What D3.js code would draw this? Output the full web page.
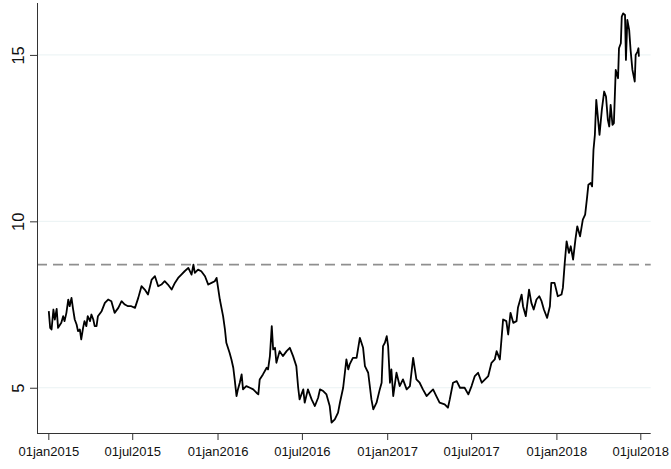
<!DOCTYPE html>
<html>
<head>
<meta charset="utf-8">
<script src="https://cdn.jsdelivr.net/npm/d3@7"></script>
<style>
html,body{margin:0;padding:0;background:#fff;}
svg{display:block;font-family:"Liberation Sans",Arial,sans-serif;}
</style>
</head>
<body>
<svg id="chart" width="671" height="469"></svg>
<script>
const dates = [
"2015-01-02","2015-01-05","2015-01-08","2015-01-12","2015-01-15","2015-01-19","2015-01-22","2015-01-29",
"2015-02-02","2015-02-05","2015-02-09","2015-02-13","2015-02-16","2015-02-20","2015-02-23","2015-02-27",
"2015-03-03","2015-03-06","2015-03-10","2015-03-13","2015-03-17","2015-03-20","2015-03-24","2015-03-27",
"2015-04-01","2015-04-04","2015-04-08","2015-04-11","2015-04-15","2015-04-18","2015-04-26",
"2015-05-03","2015-05-10","2015-05-17","2015-05-24","2015-06-01","2015-06-08","2015-06-15","2015-06-22","2015-06-29",
"2015-07-07","2015-07-14","2015-07-21","2015-07-28","2015-08-04","2015-08-12","2015-08-19","2015-08-26",
"2015-09-02","2015-09-09","2015-09-16","2015-09-24","2015-10-01","2015-10-08","2015-10-15","2015-10-22","2015-10-30",
"2015-11-06","2015-11-10","2015-11-13","2015-11-20","2015-11-27","2015-12-05","2015-12-12","2015-12-19","2015-12-26","2015-12-30",
"2016-01-06","2016-01-13","2016-01-17","2016-01-20","2016-01-27","2016-01-31","2016-02-04","2016-02-07","2016-02-11",
"2016-02-14","2016-02-18","2016-02-22","2016-02-25","2016-03-03","2016-03-11","2016-03-18","2016-03-25","2016-03-29",
"2016-04-01","2016-04-08","2016-04-16","2016-04-19","2016-04-23","2016-04-27","2016-04-30","2016-05-04","2016-05-07",
"2016-05-14","2016-05-21","2016-05-29","2016-06-05","2016-06-12","2016-06-19","2016-06-23","2016-06-26",
"2016-07-04","2016-07-07","2016-07-14","2016-07-22","2016-07-29","2016-08-05","2016-08-09","2016-08-16","2016-08-23","2016-08-30",
"2016-09-03","2016-09-10","2016-09-17","2016-09-21","2016-09-28","2016-10-05","2016-10-09","2016-10-12","2016-10-19","2016-10-27",
"2016-11-03","2016-11-10","2016-11-14","2016-11-21","2016-11-28","2016-12-02","2016-12-09","2016-12-16","2016-12-20","2016-12-23","2016-12-27","2016-12-31",
"2017-01-03","2017-01-07","2017-01-10","2017-01-14","2017-01-21","2017-01-28","2017-02-04","2017-02-12","2017-02-19","2017-02-26",
"2017-03-05","2017-03-12","2017-03-19","2017-03-27","2017-04-03","2017-04-10","2017-04-17","2017-04-24",
"2017-05-05","2017-05-12","2017-05-16","2017-05-23","2017-05-31","2017-06-07","2017-06-17","2017-06-25",
"2017-07-02","2017-07-09","2017-07-16","2017-07-24","2017-07-31","2017-08-07","2017-08-14","2017-08-21","2017-08-25",
"2017-09-01","2017-09-08","2017-09-15","2017-09-19","2017-09-24","2017-09-30","2017-10-07","2017-10-10","2017-10-18","2017-10-21","2017-10-27",
"2017-11-03","2017-11-08","2017-11-13","2017-11-19","2017-11-25","2017-11-30","2017-12-05","2017-12-12","2017-12-18","2017-12-21","2017-12-28",
"2018-01-04","2018-01-12","2018-01-15","2018-01-19","2018-01-23","2018-01-28","2018-02-01","2018-02-06","2018-02-11","2018-02-15","2018-02-21","2018-02-27",
"2018-03-04","2018-03-08","2018-03-11","2018-03-16","2018-03-19","2018-03-22","2018-03-25","2018-03-28","2018-03-31",
"2018-04-04","2018-04-09","2018-04-14","2018-04-18","2018-04-22","2018-04-25","2018-04-28",
"2018-05-02","2018-05-05","2018-05-09","2018-05-14","2018-05-16","2018-05-20","2018-05-22","2018-05-25","2018-05-29","2018-05-31",
"2018-06-03","2018-06-07","2018-06-10","2018-06-14","2018-06-19","2018-06-21","2018-06-25","2018-06-27","2018-06-28"
];
const values = [
7.30,6.80,6.75,7.35,7.05,7.37,6.80,6.95,
7.15,7.00,7.25,7.65,7.45,7.70,7.40,7.05,
6.90,6.70,6.75,6.45,6.80,7.00,6.85,7.15,
7.00,7.20,7.05,6.85,6.85,7.15,7.30,
7.55,7.65,7.60,7.25,7.40,7.60,7.50,7.45,7.45,
7.40,7.70,8.05,7.95,7.80,8.25,8.35,8.05,
8.10,8.20,8.10,7.95,8.15,8.30,8.40,8.50,8.60,
8.40,8.70,8.45,8.55,8.50,8.35,8.10,8.15,8.20,8.30,
7.65,7.15,6.75,6.35,6.05,5.85,5.60,5.25,4.75,
4.95,5.15,5.40,4.95,5.05,5.00,4.95,4.85,4.80,
5.25,5.40,5.60,5.55,5.95,6.85,6.15,6.20,5.75,
6.10,5.95,6.10,6.20,5.95,5.65,5.00,4.65,
4.95,4.55,4.95,4.65,4.45,4.70,4.95,4.90,4.80,4.45,
3.95,4.05,4.25,4.55,5.00,5.85,5.55,5.70,5.90,5.90,
6.50,6.20,5.65,5.45,4.65,4.35,4.55,4.95,5.15,6.25,6.35,6.55,
6.25,5.15,5.55,4.75,5.45,5.05,5.25,4.95,5.05,5.90,
5.25,5.15,4.95,4.75,4.85,4.95,4.75,4.55,
4.50,4.40,4.65,5.15,5.20,5.00,5.00,4.80,
5.05,5.35,5.45,5.15,5.25,5.35,5.75,5.85,6.10,
5.85,7.05,7.00,6.60,7.25,6.95,7.00,7.40,7.80,7.45,7.15,
7.95,7.55,7.35,7.65,7.75,7.60,7.35,7.10,7.45,8.15,8.15,
7.75,7.80,8.00,8.75,9.40,9.05,9.25,8.85,9.45,9.85,9.55,10.05,
10.20,10.70,11.10,11.15,11.05,12.15,12.60,13.65,13.20,
12.60,13.35,13.90,13.75,13.05,12.85,13.50,
12.90,12.95,14.55,14.30,15.20,15.35,16.15,16.25,16.20,14.85,
16.05,15.75,15.15,14.55,14.20,15.00,15.10,15.20,14.95
];
const refValue = 8.7;
const yTicks = [5, 10, 15];
const xTickDates = ["2015-01-01","2015-07-01","2016-01-01","2016-07-01","2017-01-01","2017-07-01","2018-01-01","2018-07-01"];
const xTickLabels = ["01jan2015","01jul2015","01jan2016","01jul2016","01jan2017","01jul2017","01jan2018","01jul2018"];

const parse = d3.utcParse("%Y-%m-%d");
const data = dates.map((d, i) => ({date: parse(d), value: values[i]}));

const svg = d3.select("#chart");
const plotL = 37, plotR = 650.7, plotT = 3, plotB = 433;

const x = d3.scaleUtc()
  .domain([new Date(Date.UTC(2014, 11, 7, 14)), new Date(Date.UTC(2018, 6, 23, 10))])
  .range([plotL, plotR]);
const y = d3.scaleLinear().domain([3.64, 16.56]).range([plotB, plotT]);

// gridlines
svg.append("g").selectAll("line").data(yTicks).join("line")
  .attr("x1", plotL).attr("x2", plotR)
  .attr("y1", d => y(d)).attr("y2", d => y(d))
  .attr("stroke", "#eaf2f3").attr("stroke-width", 1);

// reference line
svg.append("line")
  .attr("x1", plotL).attr("x2", plotR)
  .attr("y1", y(refValue)).attr("y2", y(refValue))
  .attr("stroke", "#8f8f8f").attr("stroke-width", 1.6)
  .attr("stroke-dasharray", "10,6");

// series
const line = d3.line().x(d => x(d.date)).y(d => y(d.value));
svg.append("path").datum(data)
  .attr("fill", "none").attr("stroke", "#000").attr("stroke-width", 1.8)
  .attr("stroke-linejoin", "round")
  .attr("d", line);

// y axis
const yAxis = d3.axisLeft(y).tickValues(yTicks).tickSize(7).tickPadding(6).tickFormat(d3.format("d"));
const gy = svg.append("g").attr("transform", `translate(${plotL},0)`).call(yAxis);
gy.select(".domain").attr("d", `M0.5,${plotT}V${plotB}`).attr("stroke", "#333");
gy.selectAll(".tick line").attr("stroke", "#333");
gy.selectAll(".tick text")
  .attr("font-size", 16.5).attr("fill", "#111")
  .attr("transform", "rotate(-90)")
  .attr("x", 0).attr("y", -13)
  .attr("dy", 0)
  .attr("text-anchor", "middle");

// x axis
const xAxis = d3.axisBottom(x).tickValues(xTickDates.map(parse)).tickSize(7).tickPadding(7)
  .tickFormat((d, i) => xTickLabels[i]);
const gx = svg.append("g").attr("transform", `translate(0,${plotB})`).call(xAxis);
gx.select(".domain").attr("d", `M${plotL},0.5H${plotR}`).attr("stroke", "#333");
gx.selectAll(".tick line").attr("stroke", "#333");
gx.selectAll(".tick text").attr("font-size", 13).attr("fill", "#111").attr("dy", "0.71em");
</script>
</body>
</html>
